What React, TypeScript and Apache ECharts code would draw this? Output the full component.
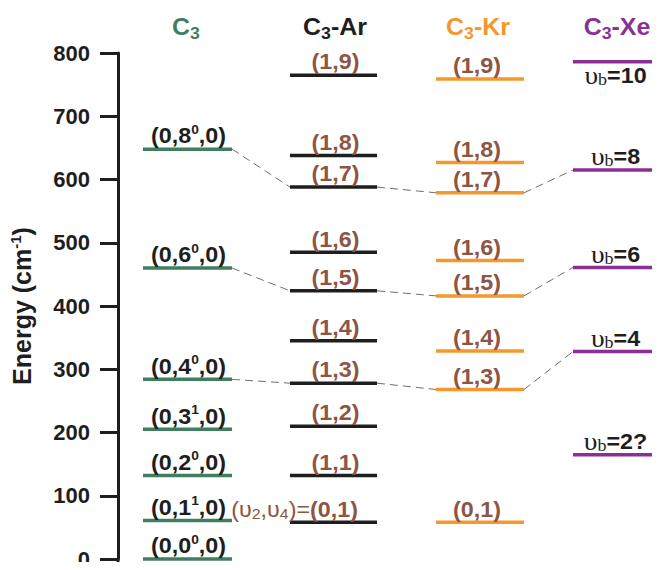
import React, { useEffect, useRef } from 'react';
import * as echarts from 'echarts';

// ---- data (energies in cm^-1) ----
const yTickValues = [0, 100, 200, 300, 400, 500, 600, 700, 800];

const headers = ['C3', 'C3-Ar', 'C3-Kr', 'C3-Xe'];

// C3 free molecule: (0, v2^l, 0)
const c3V2 = [0, 1, 2, 3, 4, 6, 8];
const c3L = [0, 1, 0, 1, 0, 0, 0];
const c3Energy = [0, 61, 132, 205, 284, 460, 648];

// C3-Ar: (v2, v4)
const arV2 = [0, 1, 1, 1, 1, 1, 1, 1, 1, 1];
const arV4 = [1, 1, 2, 3, 4, 5, 6, 7, 8, 9];
const arEnergy = [58, 132, 210, 278, 345, 424, 485, 588, 638, 765];

// C3-Kr: (v2, v4)
const krV2 = [0, 1, 1, 1, 1, 1, 1, 1];
const krV4 = [1, 3, 4, 5, 6, 7, 8, 9];
const krEnergy = [58, 268, 329, 416, 472, 579, 627, 759];

// C3-Xe: v_b
const xeVb = ['2?', '4', '6', '8', '10'];
const xeEnergy = [165, 328, 461, 615, 786];

// correlated levels (indices into each column), joined by dashed lines
const corrC3 = [4, 5, 6];
const corrAr = [3, 5, 7];
const corrKr = [1, 3, 5];
const corrXe = [1, 2, 3];

// ---- layout / style ----
const COLS = [
  { x0: 143, x1: 232 },
  { x0: 290, x1: 377 },
  { x0: 436, x1: 524 },
  { x0: 573, x1: 664 },
];
const HEADER_X = [186, 335, 478, 617];
const LINE_COLORS = ['#3f7f5f', '#1e1e1e', '#f5972b', '#8c2f95'];
const BROWN = '#8d5544';
const FONT = '"Liberation Sans", Arial, Helvetica, sans-serif';
const SERIF = '"Liberation Serif", "Times New Roman", serif';

const baseRich = (color: string) => ({
  m: { fontFamily: FONT, fontWeight: 'bold', fontSize: 22, lineHeight: 25, fill: color },
  sup: { fontFamily: FONT, fontWeight: 'bold', fontSize: 13, lineHeight: 9, verticalAlign: 'top', fill: color },
  u: { fontFamily: SERIF, fontSize: 26, lineHeight: 25, fill: color },
  ub: { fontFamily: SERIF, fontSize: 17, lineHeight: 12, verticalAlign: 'bottom', fill: color },
  r: { fontFamily: FONT, fontSize: 22, lineHeight: 25, fill: color },
  rs: { fontFamily: FONT, fontSize: 15, lineHeight: 12, verticalAlign: 'bottom', fill: color },
});

const c3Label = (i: number) => `{m|(0,${c3V2[i]}}{sup|${c3L[i]}}{m|,0)}`;
const arLabel = (i: number) =>
  i === 0
    ? `{r|(υ}{rs|2}{r|,υ}{rs|4}{r|)=}{m|(${arV2[i]},${arV4[i]})}`
    : `{m|(${arV2[i]},${arV4[i]})}`;
const krLabel = (i: number) => `{m|(${krV2[i]},${krV4[i]})}`;
const xeLabel = (i: number) => `{u|υ}{ub|b}{m|=${xeVb[i]}}`;

const columns = [
  { energy: c3Energy, label: c3Label, textColor: '#1e1e1e' },
  { energy: arEnergy, label: arLabel, textColor: BROWN },
  { energy: krEnergy, label: krLabel, textColor: BROWN },
  { energy: xeEnergy, label: xeLabel, textColor: '#1e1e1e' },
];

export default function App() {
  const ref = useRef<HTMLDivElement>(null);

  useEffect(() => {
    if (!ref.current) return;
    const chart = echarts.init(ref.current, null, { renderer: 'svg' });

    const levelSeries = columns.map((col, ci) => ({
      type: 'custom',
      coordinateSystem: 'cartesian2d',
      data: col.energy.map((e) => [(COLS[ci].x0 + COLS[ci].x1) / 2, e]),
      encode: { x: 0, y: 1 },
      silent: true,
      renderItem: (params: any, api: any) => {
        const idx = params.dataIndex;
        const e = api.value(1);
        const p0 = api.coord([COLS[ci].x0, e]);
        const p1 = api.coord([COLS[ci].x1, e]);
        const cx = (p0[0] + p1[0]) / 2;
        let tx = cx;
        let ty = p0[1] - 1;
        let align = 'center';
        let vAlign = 'bottom';
        if (ci === 0) tx = cx + 1;
        if (ci === 1) tx = cx + 2;
        if (ci === 2) tx = cx - 3;
        if (ci === 3) tx = cx - 3;
        if (ci === 1 && idx === 0) {
          tx = p0[0] + 68;
          align = 'right';
        }
        if (ci === 3 && idx === col.energy.length - 1) {
          ty = p0[1] + 1;
          vAlign = 'top';
        }
        return {
          type: 'group',
          children: [
            {
              type: 'line',
              shape: { x1: p0[0], y1: p0[1], x2: p1[0], y2: p1[1] },
              style: { stroke: LINE_COLORS[ci], lineWidth: 3.5 },
            },
            {
              type: 'text',
              x: tx,
              y: ty,
              scaleX: 1.06,
              style: {
                text: col.label(idx),
                rich: baseRich(col.textColor),
                fill: col.textColor,
                align,
                verticalAlign: vAlign,
              },
            },
          ],
        };
      },
    }));

    const corrData: any[] = [];
    const chains = [corrC3, corrAr, corrKr, corrXe];
    for (let k = 0; k < corrC3.length; k++) {
      for (let ci = 0; ci < 3; ci++) {
        const eA = columns[ci].energy[chains[ci][k]];
        const eB = columns[ci + 1].energy[chains[ci + 1][k]];
        corrData.push({ coords: [[COLS[ci].x1, eA], [COLS[ci + 1].x0, eB]] });
      }
    }

    const headerRich = (color: string) => ({
      h: { fontFamily: FONT, fontWeight: 'bold', fontSize: 24, lineHeight: 30, fill: color },
      hs: { fontFamily: FONT, fontWeight: 'bold', fontSize: 17, lineHeight: 14, verticalAlign: 'bottom', fill: color },
    });
    const headerText = (h: string) => {
      const [a, ...rest] = h.split('-');
      const tail = rest.length ? `{h|-${rest.join('-')}}` : '';
      return `{h|${a.slice(0, 1)}}{hs|${a.slice(1)}}${tail}`;
    };
    const headerColors = ['#3f7f5f', '#1e1e1e', '#f5972b', '#8c2f95'];

    chart.setOption({
      animation: false,
      grid: { left: 118, right: 0, top: 53, bottom: 7, containLabel: false },
      xAxis: { type: 'value', min: 118, max: 660, show: false },
      yAxis: {
        type: 'value',
        min: yTickValues[0],
        max: yTickValues[yTickValues.length - 1],
        interval: 100,
        name: '{n|Energy (cm}{ns|-1}{n|)}',
        nameLocation: 'middle',
        nameGap: 82,
        nameRotate: 90,
        nameTextStyle: {
          rich: {
            n: { fontFamily: FONT, fontWeight: 'bold', fontSize: 25, lineHeight: 28, color: '#1e1e1e' },
            ns: { fontFamily: FONT, fontWeight: 'bold', fontSize: 15, lineHeight: 12, verticalAlign: 'top', color: '#1e1e1e' },
          },
        },
        axisLine: { show: true, lineStyle: { color: '#1e1e1e', width: 3 } },
        axisTick: { show: true, inside: false, length: 18, lineStyle: { color: '#1e1e1e', width: 3 } },
        axisLabel: {
          margin: 28,
          fontFamily: FONT,
          fontWeight: 'bold',
          fontSize: 22,
          color: '#1e1e1e',
        },
        splitLine: { show: false },
      },
      graphic: [
        {
          type: 'line',
          shape: { x1: 118, y1: 560, x2: 118, y2: 572 },
          style: { stroke: '#1e1e1e', lineWidth: 3 },
          silent: true,
        },
        ...headers.map((h, i) => ({
          type: 'text',
          x: HEADER_X[i],
          y: 12,
          scaleX: 1.04,
          style: {
            text: headerText(h),
            rich: headerRich(headerColors[i]),
            fill: headerColors[i],
            align: 'center',
            verticalAlign: 'top',
          },
          silent: true,
        })),
      ],
      series: [
        {
          type: 'lines',
          coordinateSystem: 'cartesian2d',
          silent: true,
          lineStyle: { color: '#6f6f6f', width: 1, type: [8, 5], opacity: 1 },
          data: corrData,
        },
        ...levelSeries,
      ],
    });

    return () => chart.dispose();
  }, []);

  return <div ref={ref} style={{ width: 660, height: 570, margin: -8 }} />;
}
